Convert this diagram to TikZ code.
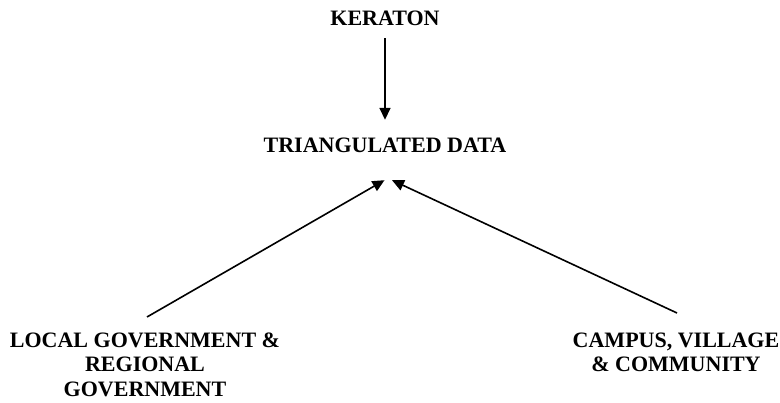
\documentclass[tikz,border=0pt]{standalone}
\usepackage{fontspec}
\setmainfont{Liberation Serif}
\usetikzlibrary{positioning,arrows.meta,calc}

\begin{document}
\begin{tikzpicture}[x=1pt,y=-1pt,>={Triangle[length=12pt,width=11pt]},line width=1.6pt,
    lbl/.style={align=center,inner sep=0pt,font=\fontsize{22}{24.5}\selectfont\bfseries}]
    \useasboundingbox (0,0) rectangle (780,403);
    \node[lbl] (ker) at (385,18) {KERATON};
    \node[lbl] (tri) at (385,145) {TRIANGULATED DATA};
    \node[lbl,anchor=north] (gov) at (145,332) {LOCAL GOVERNMENT \&\\REGIONAL\\GOVERNMENT};
    \node[lbl,anchor=north] (cam) at (676,332) {CAMPUS, VILLAGE\\\& COMMUNITY};
    \coordinate (tl) at ([xshift=-0.5pt,yshift=-27pt]tri.south);
    \coordinate (tr) at ([xshift=7pt,yshift=-27pt]tri.south);
    \draw[->,shorten <=12pt,shorten >=17pt] (ker) -- (tri);
    \draw[->] ([xshift=2pt,yshift=15pt]gov.north) -- (tl);
    \draw[->] ([xshift=1pt,yshift=19pt]cam.north) -- (tr);
  \end{tikzpicture}
\end{document}
